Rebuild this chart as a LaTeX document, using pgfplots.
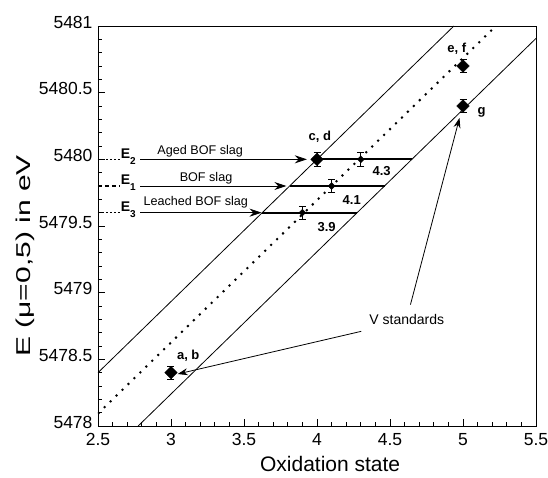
\documentclass[border=0pt]{standalone}
\usepackage{fontspec}
\setmainfont{Liberation Sans}
\usepackage{pgfplots}
\pgfplotsset{compat=1.18}
\usetikzlibrary{arrows.meta}

\begin{document}
\begin{tikzpicture}
\begin{axis}[
  width=438pt, height=400pt, scale only axis,
  xmin=2.5, xmax=5.5, ymin=5478, ymax=5481,
  xtick={2.5,3,3.5,4,4.5,5,5.5},
  ytick={5478,5478.5,5479,5479.5,5480,5480.5,5481},
  minor x tick num=4, minor y tick num=4,
  tick align=inside, tick pos=left,
  major tick length=7pt, minor tick length=4pt,
  axis line style={line width=0.8pt},
  every tick/.style={black, line width=0.8pt},
  scaled y ticks=false, scaled x ticks=false,
  /pgf/number format/assume math mode=true,
  /pgf/number format/1000 sep={},
  ticklabel style={font=\fontsize{17.5}{20}\selectfont},
  yticklabel style={yshift=4pt, xshift=-2pt},
  xticklabel style={yshift=-4pt},
  xlabel={Oxidation state},
  xlabel style={font=\fontsize{21}{24}\selectfont, at={(axis description cs:0.53,-0.113)}, anchor=base},
  ylabel={\scalebox{1.5}[1]{E (μ=0,5) in eV}},
  ylabel style={font=\fontsize{20}{24}\selectfont, at={(axis description cs:-0.167,0.425)}, anchor=center, rotate=0},
]
% calibration lines
\addplot[black, line width=0.8pt] coordinates {(2.5,5478.4) (4.9375,5481)};
\addplot[black, line width=2pt, dash pattern=on 2pt off 6.3pt] coordinates {(2.5,5478.093) (5.225,5481)};
\addplot[black, line width=0.8pt] coordinates {(2.775,5478) (5.5,5480.907)};
% slag ranges
\addplot[black, line width=2.2pt] coordinates {(4,5480) (4.65,5480)};
\addplot[black, line width=2.2pt] coordinates {(3.8125,5479.8) (4.4625,5479.8)};
\addplot[black, line width=2.2pt] coordinates {(3.625,5479.6) (4.275,5479.6)};
% edge energies
\addplot[black, line width=1.6pt, dash pattern=on 1.6pt off 2.4pt] coordinates {(2.5,5480) (2.65,5480)};
\addplot[black, line width=1.4pt, dash pattern=on 4pt off 3pt] coordinates {(2.5,5479.8) (2.65,5479.8)};
\addplot[black, line width=1.6pt, dash pattern=on 1.6pt off 2.4pt] coordinates {(2.5,5479.6) (2.65,5479.6)};
\addplot[black, line width=0.8pt, -{Stealth[length=12pt,width=8pt]}] coordinates {(2.79,5480) (3.93,5480)};
\addplot[black, line width=0.8pt, -{Stealth[length=12pt,width=8pt]}] coordinates {(2.79,5479.8) (3.79,5479.8)};
\addplot[black, line width=0.8pt, -{Stealth[length=12pt,width=8pt]}] coordinates {(2.79,5479.6) (3.62,5479.6)};
% V standards
\addplot[only marks, mark=square*, mark size=4.4pt, mark options={rotate=45, fill=black},
  error bars/.cd, y dir=both, y explicit,
  error bar style={line width=0.8pt},
  error mark options={rotate=90, mark size=3.5pt, line width=0.8pt}]
  coordinates {(3,5478.4) +- (0,0.05) (4,5480) +- (0,0.05) (5,5480.7) +- (0,0.05) (5,5480.4) +- (0,0.05)};
% slag samples
\addplot[only marks, mark=square*, mark size=2.4pt, mark options={rotate=45, fill=black},
  error bars/.cd, y dir=both, y explicit,
  error bar style={line width=0.8pt},
  error mark options={rotate=90, mark size=3.5pt, line width=0.8pt}]
  coordinates {(3.9,5479.6) +- (0,0.05) (4.1,5479.8) +- (0,0.05) (4.3,5480) +- (0,0.05)};
\addplot[black, line width=0.8pt, -{Stealth[length=10pt,width=7pt]}] coordinates {(4.303,5478.71) (3.046,5478.39)};
\addplot[black, line width=0.8pt, -{Stealth[length=10pt,width=7pt]}] coordinates {(4.64,5478.91) (4.976,5480.31)};

\node[anchor=base west, font=\fontsize{14}{14}\selectfont\bfseries, inner sep=0pt] at (axis cs:2.655,5480.01) {E\raisebox{-6pt}{\fontsize{10}{10}\selectfont 2}};
\node[anchor=base west, font=\fontsize{14}{14}\selectfont\bfseries, inner sep=0pt] at (axis cs:2.655,5479.81) {E\raisebox{-6pt}{\fontsize{10}{10}\selectfont 1}};
\node[anchor=base west, font=\fontsize{14}{14}\selectfont\bfseries, inner sep=0pt] at (axis cs:2.655,5479.61) {E\raisebox{-6pt}{\fontsize{10}{10}\selectfont 3}};
\node[font=\fontsize{12.6}{14}\selectfont] at (axis cs:3.2,5480.06) {Aged BOF slag};
\node[font=\fontsize{12.6}{14}\selectfont] at (axis cs:3.24,5479.86) {BOF slag};
\node[font=\fontsize{12.6}{14}\selectfont] at (axis cs:3.17,5479.675) {Leached BOF slag};
\node[font=\fontsize{13}{14}\selectfont\bfseries] at (axis cs:4.02,5480.17) {c, d};
\node[font=\fontsize{13}{14}\selectfont\bfseries] at (axis cs:4.957,5480.826) {e, f};
\node[font=\fontsize{13}{14}\selectfont\bfseries] at (axis cs:5.128,5480.35) {g};
\node[font=\fontsize{13}{14}\selectfont\bfseries] at (axis cs:3.118,5478.525) {a, b};
\node[font=\fontsize{13}{14}\selectfont\bfseries] at (axis cs:4.443,5479.915) {4.3};
\node[font=\fontsize{13}{14}\selectfont\bfseries] at (axis cs:4.238,5479.695) {4.1};
\node[font=\fontsize{13}{14}\selectfont\bfseries] at (axis cs:4.066,5479.49) {3.9};
\node[font=\fontsize{14}{16}\selectfont] at (axis cs:4.615,5478.8) {V standards};
\end{axis}
\pgfresetboundingbox
\path[use as bounding box] (-98pt,-51pt) rectangle (450pt,426pt);
\end{tikzpicture}
\end{document}
